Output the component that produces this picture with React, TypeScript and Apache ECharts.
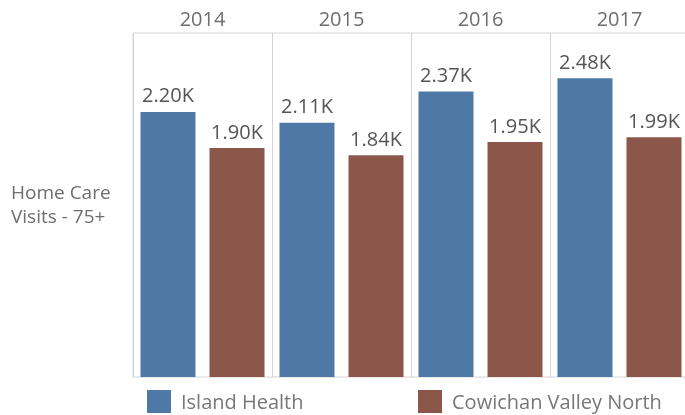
import React, { useEffect, useRef } from "react";
import * as echarts from "echarts";

const years = ["2014", "2015", "2016", "2017"];
const islandHealth = [2200, 2110, 2370, 2480];
const cowichanValleyNorth = [1900, 1840, 1950, 1990];
const seriesNames = ["Island Health", "Cowichan Valley North"];
const axisLabel = "Home Care\nVisits - 75+";

const FONT = "'Open Sans', sans-serif";

export default function App() {
  const ref = useRef<HTMLDivElement>(null);
  useEffect(() => {
    if (!ref.current) return;
    const chart = echarts.init(ref.current, undefined, { renderer: "svg" });
    const fmt = (p: any) => (p.value / 1000).toFixed(2) + "K";
    const legendText = {
      fontFamily: FONT,
      fontSize: 20,
      color: "#777",
      padding: [0, 0, 0, 5],
    };
    chart.setOption({
      animation: false,
      title: {
        text: axisLabel,
        left: 11,
        top: 180,
        padding: 0,
        textStyle: {
          fontFamily: FONT,
          fontSize: 19,
          fontWeight: "normal",
          color: "#6e6e6e",
          lineHeight: 24,
        },
      },
      grid: {
        left: 133,
        top: 33,
        width: 556,
        height: 344,
        show: true,
        borderColor: "#d4d4d4",
        borderWidth: 1,
      },
      legend: [
        {
          data: [seriesNames[0]],
          left: 147,
          top: 390,
          padding: 0,
          itemWidth: 24,
          itemHeight: 23,
          icon: "rect",
          textStyle: legendText,
        },
        {
          data: [seriesNames[1]],
          left: 418,
          top: 390,
          padding: 0,
          itemWidth: 24,
          itemHeight: 23,
          icon: "rect",
          textStyle: legendText,
        },
      ],
      xAxis: [
        {
          type: "category",
          data: years,
          position: "top",
          axisLine: { show: false },
          axisTick: { show: false },
          axisLabel: {
            fontFamily: FONT,
            fontSize: 20,
            color: "#6e6e6e",
            margin: 5,
          },
          splitLine: {
            show: true,
            interval: 0,
            lineStyle: { color: "#d4d4d4", width: 1 },
          },
        },
      ],
      yAxis: {
        type: "value",
        min: 0,
        max: 2855,
        axisLine: { show: false },
        axisTick: { show: false },
        axisLabel: { show: false },
        splitLine: { show: false },
      },
      series: [
        {
          name: seriesNames[0],
          type: "bar",
          data: islandHealth,
          barWidth: 55,
          barGap: "25.5%",
          itemStyle: { color: "#4e79a7" },
          label: {
            show: true,
            position: "top",
            distance: 7,
            formatter: fmt,
            fontFamily: FONT,
            fontSize: 20,
            color: "#555",
          },
        },
        {
          name: seriesNames[1],
          type: "bar",
          data: cowichanValleyNorth,
          barWidth: 55,
          barGap: "25.5%",
          itemStyle: { color: "#8c574b" },
          label: {
            show: true,
            position: "top",
            distance: 7,
            formatter: fmt,
            fontFamily: FONT,
            fontSize: 20,
            color: "#555",
          },
        },
      ],
    });
    return () => chart.dispose();
  }, []);
  return (
    <div
      style={{
        position: "fixed",
        left: 0,
        top: 0,
        width: 685,
        height: 415,
        overflow: "hidden",
      }}
    >
      <div ref={ref} style={{ width: 700, height: 415 }} />
    </div>
  );
}
